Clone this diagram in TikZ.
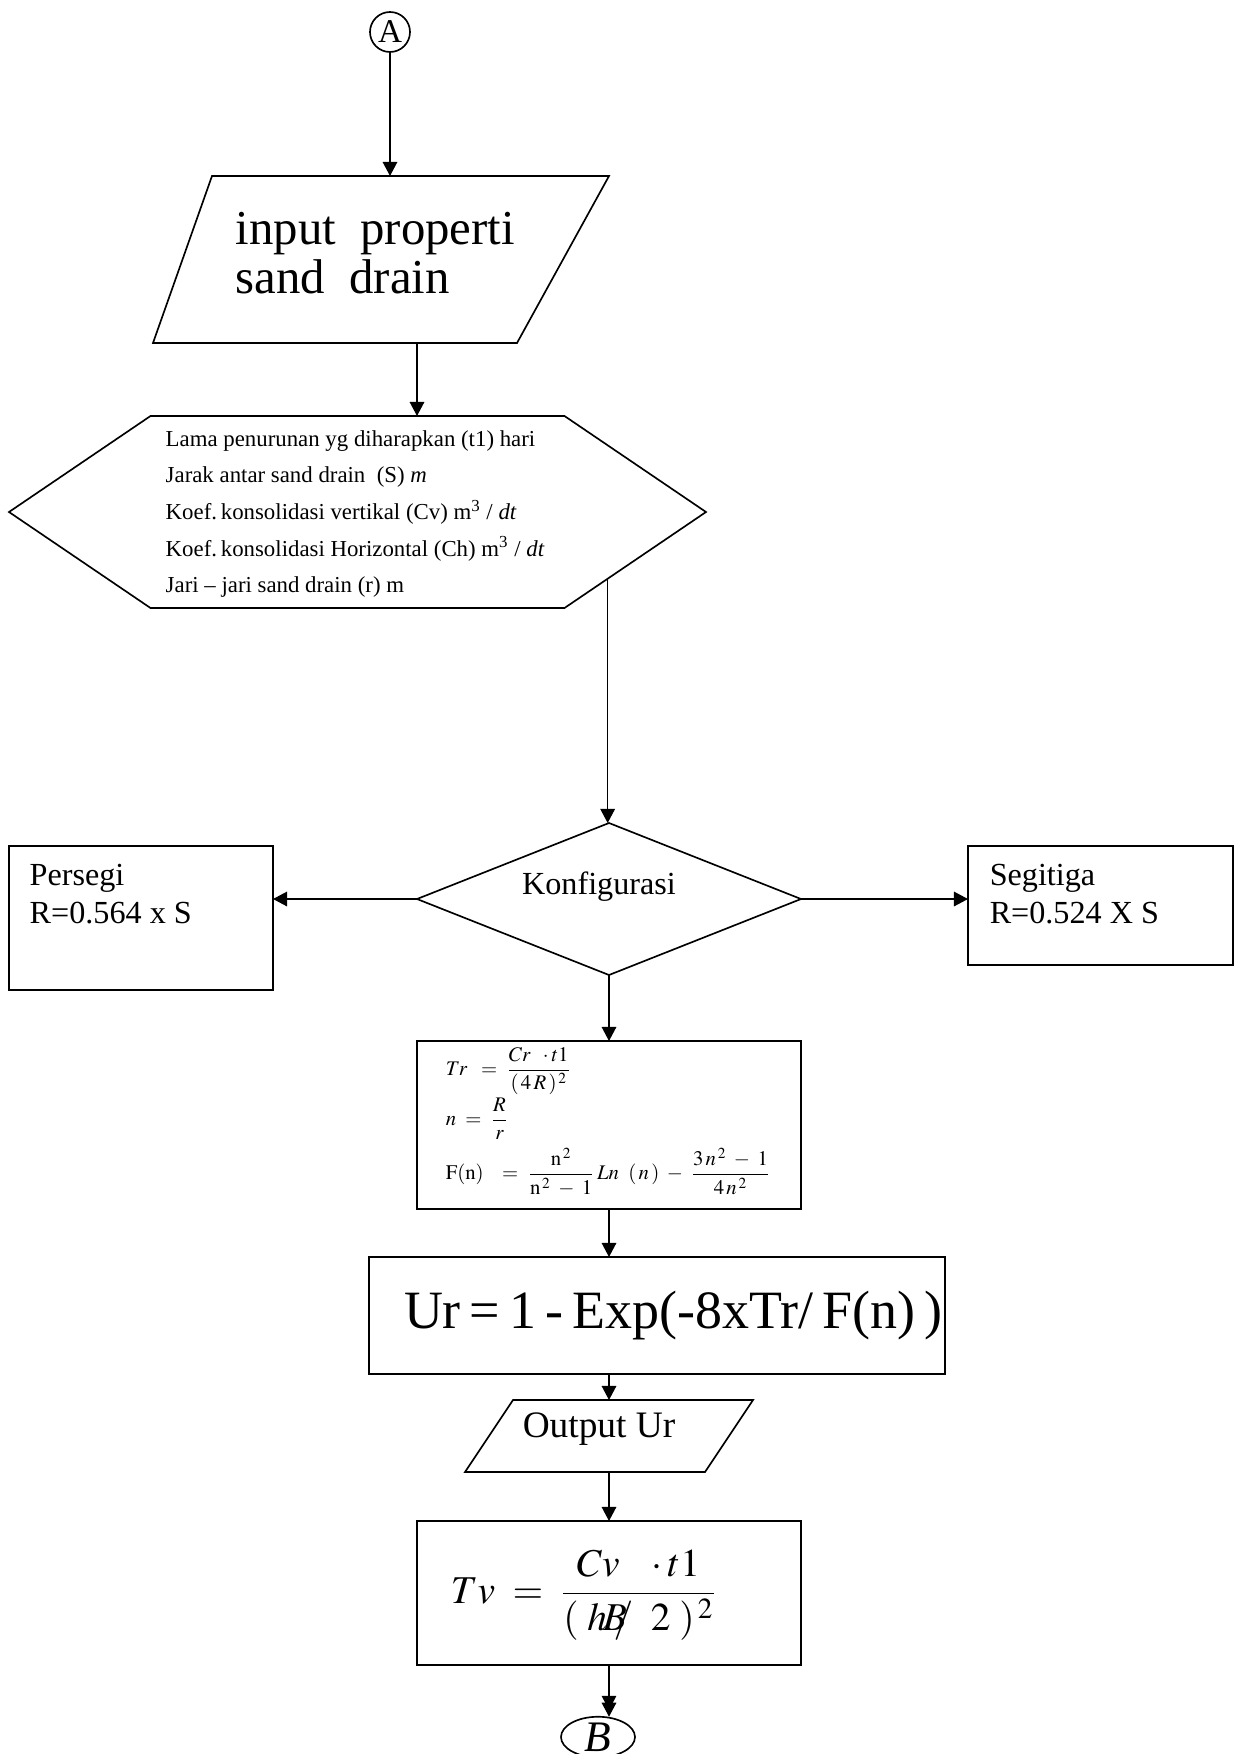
\documentclass[tikz,border=0pt]{standalone}
\usepackage{mathptmx}
\usepackage{amsmath}
\usepackage[no-math]{fontspec}
\setmainfont{Liberation Serif}
\usetikzlibrary{calc,arrows.meta,shapes.geometric}

\newcommand{\upx}{0.016933cm}
\tikzset{
    arr/.style={-{Triangle[length=6.8pt,width=7pt]}},
    arrtwo/.style={-{Triangle[length=6.8pt,width=7pt,sep=-3.5pt]Triangle[length=6.8pt,width=7pt]}},
    frame/.style 2 args={minimum width={#1*\upx}, minimum height={#2*\upx}, inner sep=0pt, outer sep=0pt},
    box/.style 2 args={draw, frame={#1}{#2}},
    eqsmall/.style={anchor=west, font=\fontsize{10}{10}\selectfont},
}

\begin{document}
\begin{tikzpicture}[x=\upx, y=-\upx, line width=0.8pt]
    \useasboundingbox (0,0) rectangle (1239,1754);

    \node[draw, circle, frame={40}{40}, font=\fontsize{16}{16}\selectfont] (A) at (390,32) {A};

    \node[frame={456}{167}] (inp) at (381,259.5) {};
    \draw ($(inp.north west)+(59,0)$) -- (inp.north east) -- ($(inp.south east)+(-92,0)$) -- (inp.south west) -- cycle;
    \node[anchor=west, align=left, font=\fontsize{23.5}{23.6}\selectfont] (inptxt) at (228,253) {input\ \ properti\\sand\ \ drain};
    \draw[arr] (A) -- (A |- inp.north);

    \node[frame={697}{192}] (hex) at (357.5,512) {};
    \coordinate (hexcorner) at ($(hex.south east)+(-141.5,0)$);
    \draw ($(hex.north west)+(141.5,0)$) -- ($(hex.north east)+(-141.5,0)$) -- (hex.east) -- (hexcorner)
        -- ($(hex.south west)+(141.5,0)$) -- (hex.west) -- cycle;
    \node[anchor=west, align=left, font=\fontsize{11}{17.7}\selectfont] (hextxt) at (158,514) {%
        Lama penurunan yg diharapkan (t1) hari\\
        Jarak antar sand drain\ \ (S) \textit{m}\\
        Koef.\,konsolidasi vertikal (Cv) m\textsuperscript{3} / \textit{dt}\\
        Koef.\,konsolidasi Horizontal (Ch) m\textsuperscript{3} / \textit{dt}\\
        Jari -- jari sand drain (r) m};
    \coordinate (inpout) at ($(inp.south)+(36,0)$);
    \draw[arr] (inpout) -- (inpout |- hex.north);

    \node[draw, diamond, frame={384}{152}] (kon) at (609,899) {};
    \node[font=\fontsize{15.5}{18}\selectfont] (konlbl) at (599,887) {Konfigurasi};
    \coordinate (hexout) at ($(hex.east)!0.695!(hexcorner)$);
    \draw[arr] (hexout) -- (hexout |- kon.north);

    \node[box={264}{144}] (per) at (141,918) {};
    \node[anchor=west, align=left, font=\fontsize{15.5}{18.3}\selectfont] (pertxt) at (22,894.5) {Persegi\\R=0.564 x S};
    \node[box={265}{119}] (seg) at (1100.5,905.5) {};
    \node[anchor=west, align=left, font=\fontsize{15.5}{18.3}\selectfont] (segtxt) at (982,894.5) {Segitiga\\R=0.524 X S};
    \draw[arr] (kon.west) -- (kon.west -| per.east);
    \draw[arr] (kon.east) -- (kon.east -| seg.west);

    \node[box={384}{168}] (frm) at (609,1125) {};
    \node[eqsmall] (trf) at (438,1071) {$Tr\;\;=\;\dfrac{Cr\;\;\cdot t1}{(\,4\,R\,)^{\,2}}$};
    \node[eqsmall] (nf) at (438,1119) {$n\;=\;\dfrac{R}{r}$};
    \node[eqsmall] (fnf) at (438,1172) {$\mathrm{F(n)}\;\;\;=\;\dfrac{\mathrm{n}^{\,2}}{\mathrm{n}^{\,2}\;-\;1}\,Ln\;\;(\,n\,)\;-\;\dfrac{3\,n^{\,2}\;-\;1}{4\,n^{\,2}}$};
    \draw[arr] (kon.south) -- (kon.south |- frm.north);

    \node[box={576}{117}] (ur) at (657,1315.5) {};
    \node[font=\fontsize{26}{26}\selectfont] (urtxt) at (673,1316) {Ur\,=\,1\,-\,Exp(-8xTr/\,F(n)\,)};
    \draw[arr] (frm.south) -- (frm.south |- ur.north);

    \node[frame={288}{72}] (out) at (609,1436) {};
    \draw ($(out.north west)+(48,0)$) -- (out.north east) -- ($(out.south east)+(-48,0)$) -- (out.south west) -- cycle;
    \node[anchor=west, font=\fontsize{18}{18}\selectfont] (outtxt) at (515,1429) {Output Ur};
    \draw[arr] (frm.south |- ur.south) -- (frm.south |- out.north);

    \node[box={384}{144}] (tv) at (609,1593) {};
    \node[anchor=west, font=\fontsize{19}{19}\selectfont] (tvtxt) at (443,1595) {$Tv\;=\;\dfrac{\;Cv\;\;\;\cdot t1\;}{(\;h\!B\!\!\!/\;\;2\;)^{\,2}}$};
    \draw[arr] (out.south) -- (out.south |- tv.north);

    \node[draw, ellipse, frame={74}{40}, font=\fontsize{21}{21}\selectfont\itshape] (B) at (598,1737) {B};
    \draw[arrtwo] (tv.south) -- (tv.south |- B.north);
\end{tikzpicture}
\end{document}
